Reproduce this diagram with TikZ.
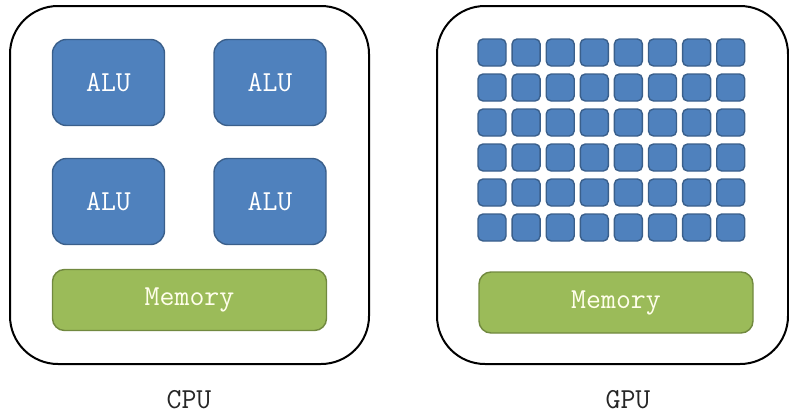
\documentclass[tikz,border=0pt]{standalone}
\usepackage{fontspec}
\definecolor{alufill}{HTML}{4F81BD}
\definecolor{aluline}{HTML}{3A5F8B}
\definecolor{memfill}{HTML}{9BBB59}
\definecolor{memline}{HTML}{71893F}
\begin{document}
\begin{tikzpicture}[x=1pt, y=-1pt]
\tikzset{
  chip/.style={
    draw=black, line width=2pt, rectangle, rounded corners=48pt
  },
  alu/.style={
    draw=aluline, fill=alufill, line width=1.4pt, rectangle, rounded corners=14pt,
    minimum width=112pt, minimum height=86pt,
    text=white, font=\ttfamily\fontsize{29}{32}\selectfont
  },
  core/.style={
    draw=aluline, fill=alufill, line width=1.4pt, rectangle, rounded corners=5pt,
    minimum width=28pt, minimum height=27pt, inner sep=0pt
  },
  mem/.style={
    draw=memline, fill=memfill, line width=1.4pt, rectangle, rounded corners=12pt,
    minimum width=274pt, minimum height=61pt,
    text=white!92!yellow, font=\ttfamily\fontsize{29}{32}\selectfont
  },
  caption/.style={
    inner sep=0pt, text=black!85, font=\ttfamily\fontsize{29}{32}\selectfont
  }
}
\useasboundingbox (0,0) rectangle (789,415);

% CPU
\node[chip, minimum width=359pt, minimum height=358pt] (cpu) at (189.5,185) {};
\node[alu] (alu1) at (108.5,82.5) {ALU};
\node[alu] (alu2) at (270,82.5)   {ALU};
\node[alu] (alu3) at (108.5,201.5) {ALU};
\node[alu] (alu4) at (270,201.5)   {ALU};
\node[mem] (cpumem) at (189.5,300) {Memory};
\node[caption] (cpulabel) at (189,400) {CPU};

% GPU
\node[chip, minimum width=351pt, minimum height=358pt] (gpu) at (612.5,185) {};
\foreach \r in {0,...,5}
  \foreach \c in {0,...,7}
    \node[core] (core-\r-\c) at (492+34.1*\c, 52.5+35*\r) {};
\node[mem] (gpumem) at (616,302.5) {Memory};
\node[caption] (gpulabel) at (628,400) {GPU};
\end{tikzpicture}
\end{document}
